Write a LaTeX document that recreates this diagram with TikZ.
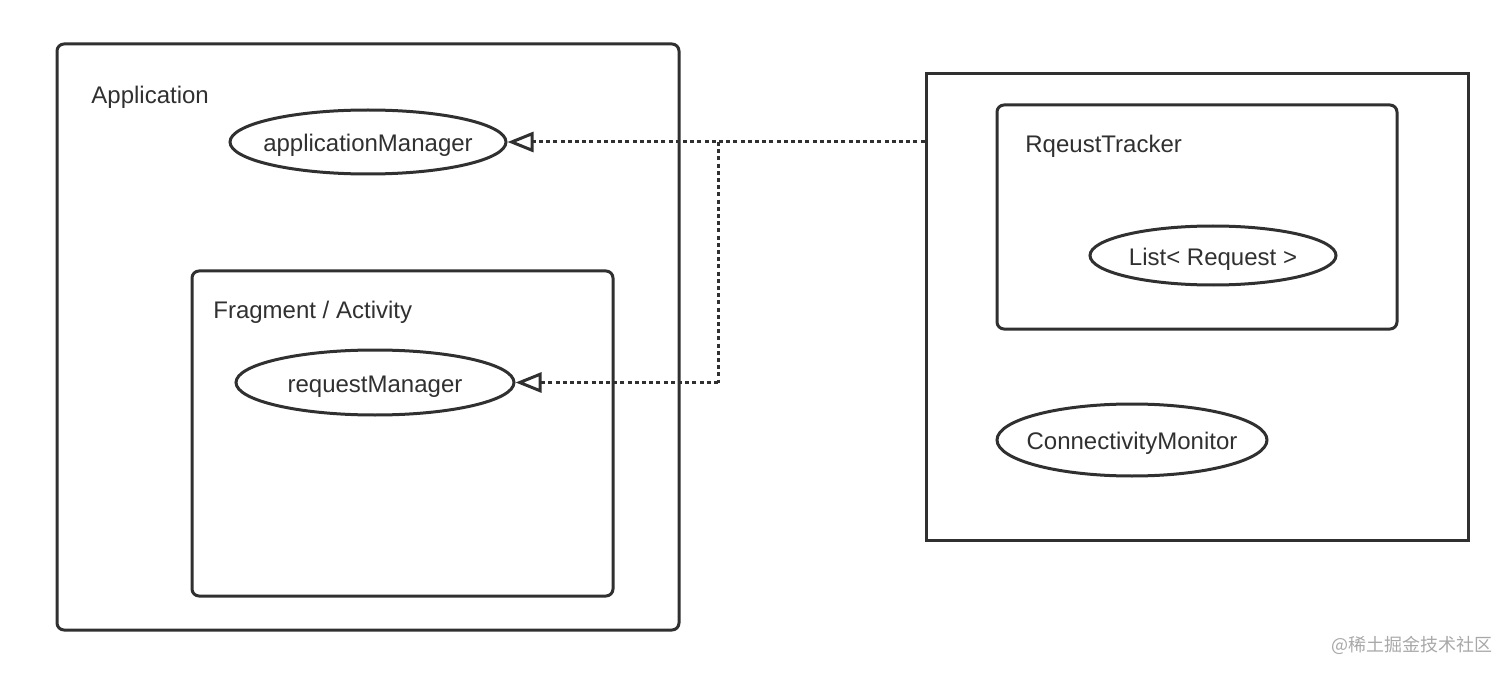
\documentclass[tikz,border=0pt]{standalone}
\usepackage{fontspec}
\setmainfont{Liberation Sans}
\newfontfamily\cjk{Noto Sans CJK SC}
\usetikzlibrary{shapes.geometric,arrows.meta}
\definecolor{ink}{HTML}{303030}
\definecolor{wm}{HTML}{A8A8A8}
\newcommand{\ovtext}[1]{\makebox[0pt]{\raisebox{-4.8pt}[0pt][0pt]{#1}}}
\begin{document}
\begin{tikzpicture}[x=0.5pt,y=-0.5pt,
  every node/.style={text=ink,font=\fontsize{12}{14}\selectfont},
  frame/.style={draw=ink,line width=1.5pt,inner sep=0pt,rounded corners=3.5pt},
  sharpframe/.style={draw=ink,line width=1.5pt,inner sep=0pt},
  oval/.style={ellipse,draw=ink,line width=1.5pt,inner sep=0pt},
  label/.style={anchor=west,inner sep=0pt},
  dep/.style={draw=ink,line width=1.5pt,dash pattern=on 2pt off 1.6pt,
    -{Triangle[open,length=13pt,width=10pt,line width=1.5pt]}},
  depline/.style={draw=ink,line width=1.5pt,dash pattern=on 2pt off 1.6pt}]
\useasboundingbox (0,0) rectangle (1512,674);
% left side
\node[frame,minimum width=311pt,minimum height=293pt] (app) at (368,337) {};
\node[label] (applbl) at (91,97) {Application};
\node[oval,minimum width=138pt,minimum height=32pt] (am) at (368,142) {\ovtext{applicationManager}};
\node[frame,minimum width=210.5pt,minimum height=162.5pt] (frag) at (402.5,433.5) {};
\node[label] (fraglbl) at (213,312) {Fragment / Activity};
\node[oval,minimum width=139pt,minimum height=32.5pt] (rm) at (375,382.5) {\ovtext{requestManager}};
% right side
\node[sharpframe,minimum width=271pt,minimum height=233pt] (rb) at (1197,307) {};
\node[frame,minimum width=200pt,minimum height=112pt] (rt) at (1197,217) {};
\node[label] (rtlbl) at (1025,146) {RqeustTracker};
\node[oval,minimum width=123pt,minimum height=29.5pt] (list) at (1213,255.5) {\ovtext{List<~Request~>}};
\node[oval,minimum width=135pt,minimum height=36pt] (cm) at (1132,440) {\ovtext{ConnectivityMonitor}};
% watermark
\node[anchor=east,inner sep=0pt,text=wm,font=\cjk\fontsize{9}{11}\selectfont] (wmk) at (1493,645) {@稀土掘金技术社区};
% connectors
\coordinate (j) at (718,142);
\draw[dep] (am.east -| rb.west) -- (am.east);
\draw[depline] (j) -- (j |- rm.east);
\draw[dep] (j |- rm.east) -- (rm.east);
\end{tikzpicture}
\end{document}
